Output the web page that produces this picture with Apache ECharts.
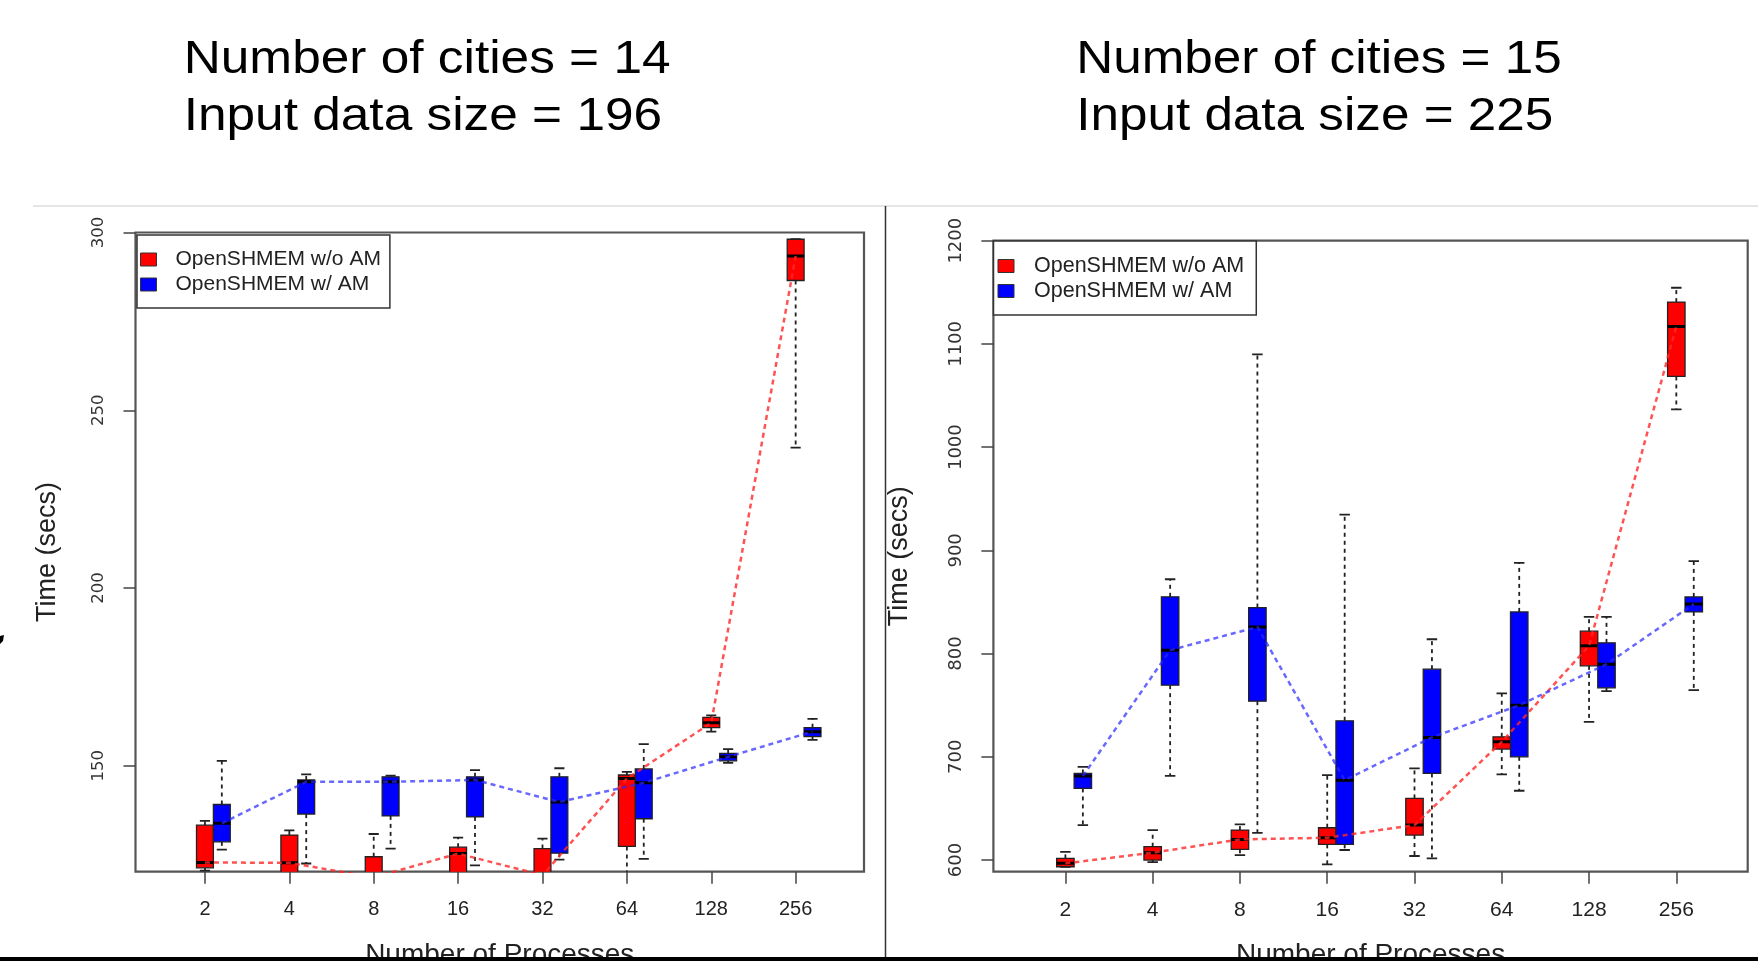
<!DOCTYPE html>
<html>
<head>
<meta charset="utf-8">
<script src="https://cdn.jsdelivr.net/npm/echarts@6/dist/echarts.min.js"></script>
<style>
html,body{margin:0;padding:0;background:#fff;}
#chart{width:1758px;height:961px;}
</style>
</head>
<body>
<div id="chart"></div>
<script>
// ---- data ----
const categories = ['2', '4', '8', '16', '32', '64', '128', '256'];
const seriesNames = ['OpenSHMEM w/o AM', 'OpenSHMEM w/ AM'];
const titlesLeft = ['Number of cities = 14', 'Input data size = 196'];
const titlesRight = ['Number of cities = 15', 'Input data size = 225'];
const xAxisTitle = 'Number of Processes';
const yAxisTitle = 'Time (secs)';
const yTicksLeft = [150, 200, 250, 300];
const yTicksRight = [600, 700, 800, 900, 1000, 1100, 1200];

// each entry: [lower whisker, Q1, median, Q3, upper whisker]
const redLeft = [
  [120.5, 121.3, 122.8, 133.3, 134.5],
  [117.0, 119.0, 122.7, 130.5, 131.8],
  [114.0, 116.0, 118.6, 124.4, 130.8],
  [116.0, 119.0, 125.3, 127.1, 129.8],
  [114.0, 117.0, 119.2, 126.7, 129.5],
  [119.0, 127.3, 146.4, 147.4, 148.3],
  [159.6, 160.7, 162.1, 163.6, 164.2],
  [239.5, 286.5, 293.4, 298.1, 298.1]
];
const blueLeft = [
  [126.4, 128.6, 133.8, 139.1, 151.4],
  [122.5, 136.4, 145.5, 146.0, 147.6],
  [126.7, 135.9, 145.5, 146.9, 147.2],
  [122.0, 135.6, 146.0, 146.9, 148.8],
  [123.6, 125.4, 139.8, 146.9, 149.3],
  [123.8, 135.1, 145.2, 149.1, 156.1],
  [150.8, 151.4, 152.5, 153.5, 154.7],
  [157.3, 158.2, 159.6, 160.7, 163.2]
];
const redRight = [
  [593.5, 593.5, 596.8, 601.6, 608.0],
  [598.0, 600.0, 607.1, 612.9, 629.0],
  [604.8, 610.4, 620.0, 629.0, 634.6],
  [595.8, 615.2, 621.6, 631.3, 682.3],
  [603.9, 624.2, 633.9, 659.7, 688.8],
  [683.0, 707.5, 714.5, 719.4, 761.4],
  [733.9, 788.1, 807.5, 821.7, 835.5],
  [1036.6, 1068.5, 1116.9, 1140.5, 1154.4]
];
const blueRight = [
  [633.9, 669.4, 681.3, 683.9, 690.3],
  [681.6, 769.4, 803.3, 855.0, 872.0],
  [626.4, 753.9, 825.8, 844.6, 1089.8],
  [609.7, 615.2, 677.4, 734.9, 934.7],
  [601.6, 683.9, 718.8, 784.9, 813.9],
  [667.1, 700.0, 750.0, 840.4, 887.8],
  [763.6, 766.8, 789.7, 810.4, 835.5],
  [764.6, 840.4, 848.0, 854.9, 889.5]
];

// ---- styling constants ----
const BOX_W = 0.2;
const BLUE_SHIFT = 0.2;
const RED = '#ff0000';
const BLUE = '#0000ff';
const FONT = '"Liberation Sans", Arial, Helvetica, sans-serif';
const positions = categories.map((c, i) => i + 1);

function boxData(arr, shift) {
  return arr.map((d, i) => [positions[i] + shift].concat(d));
}
function medianData(arr, shift) {
  return arr.map((d, i) => [positions[i] + shift, d[2]]);
}

function renderBox(params, api) {
  const x = api.value(0);
  const pLow = api.coord([x, api.value(1)]);
  const pQ1 = api.coord([x, api.value(2)]);
  const pMed = api.coord([x, api.value(3)]);
  const pQ3 = api.coord([x, api.value(4)]);
  const pHigh = api.coord([x, api.value(5)]);
  const bw = api.size([BOX_W, 0])[0];
  const sw = bw * 0.6;
  const cx = pMed[0];
  const color = api.visual('color');
  const wStyle = { stroke: '#222', lineWidth: 1.8, lineDash: [4, 4] };
  const sStyle = { stroke: '#222', lineWidth: 1.8 };
  return {
    type: 'group',
    children: [
      { type: 'line', shape: { x1: cx, y1: pQ3[1], x2: cx, y2: pHigh[1] }, style: wStyle },
      { type: 'line', shape: { x1: cx, y1: pQ1[1], x2: cx, y2: pLow[1] }, style: wStyle },
      { type: 'line', shape: { x1: cx - sw / 2, y1: pHigh[1], x2: cx + sw / 2, y2: pHigh[1] }, style: sStyle },
      { type: 'line', shape: { x1: cx - sw / 2, y1: pLow[1], x2: cx + sw / 2, y2: pLow[1] }, style: sStyle },
      { type: 'rect', shape: { x: cx - bw / 2, y: pQ3[1], width: bw, height: pQ1[1] - pQ3[1] },
        style: { fill: color, stroke: '#222', lineWidth: 1.3 } },
      { type: 'line', shape: { x1: cx - bw / 2, y1: pMed[1], x2: cx + bw / 2, y2: pMed[1] },
        style: { stroke: '#000', lineWidth: 3 } }
    ]
  };
}

function boxSeries(name, color, data, idx) {
  return {
    name: name, type: 'custom', xAxisIndex: idx, yAxisIndex: idx, clip: true,
    itemStyle: { color: color },
    renderItem: renderBox,
    encode: { x: 0, y: [1, 2, 3, 4, 5] },
    data: data, z: 2
  };
}
function medianLine(name, color, data, idx) {
  return {
    name: name, type: 'line', xAxisIndex: idx, yAxisIndex: idx, clip: true,
    symbol: 'none', silent: true, z: 5,
    lineStyle: { color: color, width: 2.5, type: [5, 4] },
    data: data
  };
}

function xAxisCfg(idx, min, max, fs) {
  return {
    gridIndex: idx, type: 'value', min: min, max: max,
    axisLine: { show: false }, splitLine: { show: false },
    axisTick: { show: true, customValues: positions, length: 12, lineStyle: { color: '#444', width: 1.5 } },
    axisLabel: { customValues: positions, formatter: v => categories[Math.round(v) - 1],
      fontSize: fs, fontFamily: FONT, color: '#222', margin: 28 },
    name: xAxisTitle, nameLocation: 'middle', nameGap: 70,
    nameTextStyle: { fontSize: 28, fontFamily: FONT, color: '#222' }
  };
}
function yAxisCfg(idx, min, max, ticks, fs, margin, nameGap) {
  return {
    gridIndex: idx, type: 'value', min: min, max: max,
    axisLine: { show: false }, splitLine: { show: false },
    axisTick: { show: true, customValues: ticks, length: 12, lineStyle: { color: '#444', width: 1.5 } },
    axisLabel: { customValues: ticks, rotate: 90, fontSize: fs, fontFamily: '"DejaVu Sans", sans-serif',
      color: '#333', margin: margin, formatter: v => String(v) },
    name: yAxisTitle, nameLocation: 'middle', nameRotate: 90, nameGap: nameGap,
    nameTextStyle: { fontSize: 27, fontFamily: FONT, color: '#222' }
  };
}
function legendCfg(left, top, fs, pad, gap, textPad) {
  return {
    left: left, top: top, orient: 'vertical', selectedMode: false,
    backgroundColor: '#fff', borderColor: '#333', borderWidth: 1.5, borderRadius: 0,
    padding: pad, itemGap: gap, itemWidth: 16, itemHeight: 13,
    itemStyle: { borderColor: '#333', borderWidth: 1 },
    textStyle: { fontSize: fs, fontFamily: FONT, color: '#222', lineHeight: fs, padding: [0, 0, 0, textPad] },
    data: [{ name: seriesNames[0], icon: 'rect' }, { name: seriesNames[1], icon: 'rect' }]
  };
}
function titleText(x, y, text, scale) {
  return { type: 'text', x: x, y: y, scaleX: scale, z: 50,
    style: { x: 0, y: 0, text: text, font: '47px ' + FONT, fill: '#000', textAlign: 'left', textVerticalAlign: 'middle' } };
}

const chart = echarts.init(document.getElementById('chart'), null, { renderer: 'canvas' });
chart.setOption({
  animation: false,
  backgroundColor: '#fff',
  grid: [
    { left: 135.5, top: 232.5, width: 728.5, height: 639.2, show: true, borderColor: '#555', borderWidth: 2.2,
      backgroundColor: 'transparent', containLabel: false, outerBoundsMode: 'none' },
    { left: 993.4, top: 240.7, width: 754.3, height: 631, show: true, borderColor: '#555', borderWidth: 2.2,
      backgroundColor: 'transparent', containLabel: false, outerBoundsMode: 'none' }
  ],
  xAxis: [xAxisCfg(0, 0.177, 8.81, 20), xAxisCfg(1, 0.175, 8.818, 21)],
  yAxis: [
    yAxisCfg(0, 120.2, 300, yTicksLeft, 16.5, 28, 74),
    yAxisCfg(1, 588.7, 1200, yTicksRight, 18, 28, 80)
  ],
  legend: [
    legendCfg(137, 235, 21, [14, 9, 13, 3], 4, 14),
    legendCfg(993.5, 241, 21.5, [14, 12, 13, 4], 3, 15)
  ],
  graphic: [
    titleText(183.7, 60.5, titlesLeft[0], 1.093),
    titleText(183.7, 117.5, titlesLeft[1], 1.093),
    titleText(1076.2, 60.5, titlesRight[0], 1.09),
    titleText(1076.2, 117.5, titlesRight[1], 1.09),
    { type: 'line', z: 60, shape: { x1: 33, y1: 206, x2: 1758, y2: 206 }, style: { stroke: '#ddd', lineWidth: 1.5 } },
    { type: 'line', z: 60, shape: { x1: 885.5, y1: 206, x2: 885.5, y2: 961 }, style: { stroke: '#333', lineWidth: 1.5 } },
    { type: 'rect', z: 60, shape: { x: 0, y: 957, width: 1758, height: 4 }, style: { fill: '#000' } },
    { type: 'polygon', z: 60, shape: { points: [[0, 636], [4, 635], [3, 641], [0, 644]] }, style: { fill: '#000' } }
  ],
  series: [
    boxSeries(seriesNames[0], RED, boxData(redLeft, 0), 0),
    boxSeries(seriesNames[1], BLUE, boxData(blueLeft, BLUE_SHIFT), 0),
    medianLine('w/o AM median (14)', 'rgba(255,40,40,0.8)', medianData(redLeft, 0), 0),
    medianLine('w/ AM median (14)', 'rgba(40,40,255,0.7)', medianData(blueLeft, BLUE_SHIFT), 0),
    boxSeries(seriesNames[0], RED, boxData(redRight, 0), 1),
    boxSeries(seriesNames[1], BLUE, boxData(blueRight, BLUE_SHIFT), 1),
    medianLine('w/o AM median (15)', 'rgba(255,40,40,0.8)', medianData(redRight, 0), 1),
    medianLine('w/ AM median (15)', 'rgba(40,40,255,0.7)', medianData(blueRight, BLUE_SHIFT), 1)
  ]
});
</script>
</body>
</html>
